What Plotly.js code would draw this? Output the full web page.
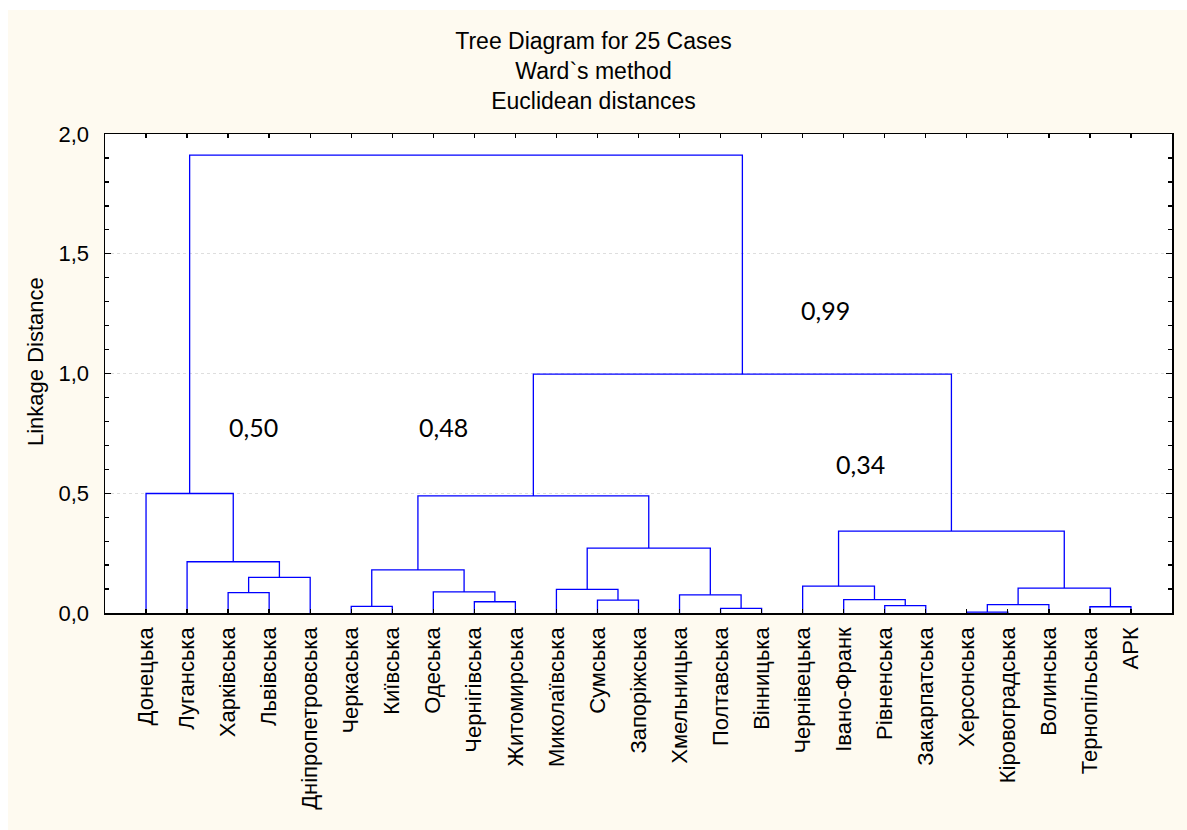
<!DOCTYPE html>
<html>
<head>
<meta charset="utf-8">
<script src="https://cdn.plot.ly/plotly-3.0.1.min.js"></script>
<style>
  html, body { margin: 0; padding: 0; background: #ffffff; }
  #chart { width: 1187px; height: 830px; }
</style>
</head>
<body>
<div id="chart"></div>
<script>
// ---- Data ----
const leaves = [
  "Донецька", "Луганська", "Харківська", "Львівська", "Дніпропетровська",
  "Черкаська", "Київська", "Одеська", "Чернігівська", "Житомирська",
  "Миколаївська", "Сумська", "Запоріжська", "Хмельницька", "Полтавська",
  "Вінницька", "Чернівецька", "Івано-Франк", "Рівненська", "Закарпатська",
  "Херсонська", "Кіровоградська", "Волинська", "Тернопільська", "АРК"
];
// merge k creates node 25+k from nodes mergeLeft[k] and mergeRight[k]
const mergeLeft   = [2,  25, 1,  0,  5,  8,  7,  29, 11, 10, 14, 13, 34, 32, 18, 17, 16, 20, 42, 23, 43, 41, 38, 28];
const mergeRight  = [3,  4,  26, 27, 6,  9,  30, 31, 12, 33, 15, 35, 36, 37, 19, 39, 40, 21, 22, 24, 44, 45, 46, 47];
const mergeHeight = [0.085, 0.149, 0.214, 0.499, 0.028, 0.047, 0.088, 0.180, 0.054, 0.099, 0.019, 0.076, 0.271, 0.489,
                     0.031, 0.056, 0.112, 0.004, 0.035, 0.026, 0.104, 0.342, 0.997, 1.912];
const clusterLabels = ["0,50", "0,48", "0,99", "0,34"];
const titleLines = ["Tree Diagram for 25 Cases", "Ward`s method", "Euclidean distances"];
const yAxisTitle = "Linkage Distance";

// ---- Build dendrogram segments from the linkage ----
const nLeaves = leaves.length;
const pos = [], hgt = [];
for (let i = 0; i < nLeaves; i++) { pos.push(i); hgt.push(0); }
const xs = [], ys = [];
for (let k = 0; k < mergeLeft.length; k++) {
  const a = mergeLeft[k], b = mergeRight[k], H = mergeHeight[k];
  xs.push(pos[a], pos[a], pos[b], pos[b], null);
  ys.push(hgt[a], H, H, hgt[b], null);
  pos.push((pos[a] + pos[b]) / 2);
  hgt.push(H);
}

const tickIdx = leaves.map((_, i) => i);

const trace = {
  type: 'scatter', mode: 'lines', x: xs, y: ys,
  line: { color: '#0000ff', width: 1.3 },
  hoverinfo: 'skip', showlegend: false, cliponaxis: false
};

const cream = '#fefaf0';
const layout = {
  width: 1187, height: 830,
  paper_bgcolor: cream,
  plot_bgcolor: '#ffffff',
  separators: ', ',
  margin: { l: 105, r: 15, t: 134, b: 217, pad: 0 },
  font: { family: 'Liberation Sans, Arial, sans-serif', size: 22, color: '#000000' },
  title: {
    text: titleLines.join('<br>'),
    font: { family: 'Liberation Sans, Arial, sans-serif', size: 23, color: '#000000' },
    x: 0.5, xref: 'container', xanchor: 'center',
    y: 1 - 49 / 830, yref: 'container', yanchor: 'top'
  },
  xaxis: {
    range: [-1, 25],
    tickmode: 'array', tickvals: tickIdx, ticktext: leaves,
    tickangle: -90,
    ticks: 'inside', ticklen: 4, tickcolor: '#000000', tickwidth: 1.3,
    showline: true, linecolor: '#000000', linewidth: 1.5, mirror: 'allticks',
    showgrid: false, zeroline: false,
    tickfont: { size: 22 },
    ticklabelstandoff: 4,
    fixedrange: true
  },
  yaxis: {
    range: [0, 2],
    tickmode: 'linear', tick0: 0, dtick: 0.5, tickformat: '.1f',
    ticks: 'inside', ticklen: 6, tickcolor: '#000000', tickwidth: 1.3,
    minor: { dtick: 0.1, ticks: 'inside', ticklen: 4, tickcolor: '#000000', showgrid: false },
    showline: true, linecolor: '#000000', linewidth: 1.5, mirror: 'allticks',
    showgrid: true, gridcolor: '#dedede', griddash: 'dot', gridwidth: 1,
    zeroline: false,
    tickfont: { size: 22 },
    ticklabelstandoff: 10,
    fixedrange: true
  },
  shapes: [
    // white strips around the cream frame (as in the original screenshot)
    { type: 'rect', xref: 'paper', yref: 'paper', x0: -105/1067, x1: (8-105)/1067, y0: -217/479, y1: 613/479,
      fillcolor: '#ffffff', line: { width: 0 }, layer: 'below' },
    { type: 'rect', xref: 'paper', yref: 'paper', x0: -105/1067, x1: 1082/1067, y0: (613-10)/479, y1: 613/479,
      fillcolor: '#ffffff', line: { width: 0 }, layer: 'below' }
  ],
  annotations: [
    { x: 2.63, y: 0.776, text: clusterLabels[0] },
    { x: 7.25, y: 0.776, text: clusterLabels[1] },
    { x: 16.55, y: 1.267, text: clusterLabels[2] },
    { x: 17.42, y: 0.621, text: clusterLabels[3] }
  ].map(a => Object.assign(a, {
    xref: 'x', yref: 'y', showarrow: false, xanchor: 'center', yanchor: 'middle',
    font: { family: 'Lato, Carlito, sans-serif', size: 25, color: '#000000' }
  })).concat([{
    xref: 'paper', yref: 'paper', x: (35 - 105) / 1067, y: (613 - 362) / 479,
    text: yAxisTitle, textangle: -90, showarrow: false, xanchor: 'center', yanchor: 'middle',
    font: { family: 'Liberation Sans, Arial, sans-serif', size: 22, color: '#000000' }
  }])
};

Plotly.newPlot('chart', [trace], layout, { displayModeBar: false, staticPlot: true });
</script>
</body>
</html>
